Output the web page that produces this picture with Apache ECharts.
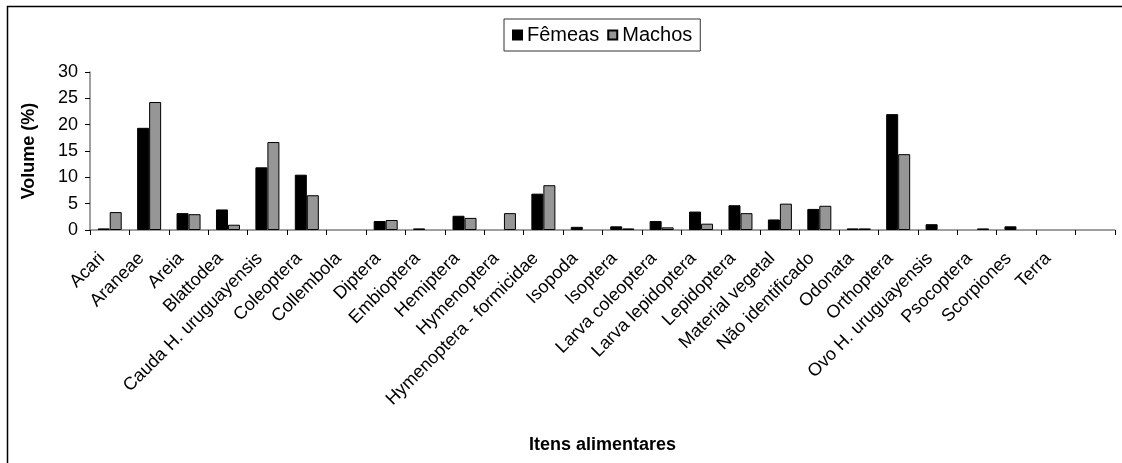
<!DOCTYPE html>
<html>
<head>
<meta charset="utf-8">
<script src="https://cdn.jsdelivr.net/npm/echarts@6/dist/echarts.min.js"></script>
<style>
  html, body { margin: 0; padding: 0; background: #fff; }
  #chart { width: 1122px; height: 463px; }
</style>
</head>
<body>
<div id="chart"></div>
<script>
// itens alimentares (ultima categoria vazia, como no original)
const categories = [
  'Acari', 'Araneae', 'Areia', 'Blattodea', 'Cauda H. uruguayensis', 'Coleoptera',
  'Collembola', 'Diptera', 'Embioptera', 'Hemiptera', 'Hymenoptera',
  'Hymenoptera - formicidae', 'Isopoda', 'Isoptera', 'Larva coleoptera',
  'Larva lepidoptera', 'Lepidoptera', 'Material vegetal', 'Não identificado',
  'Odonata', 'Orthoptera', 'Ovo H. uruguayensis', 'Psocoptera', 'Scorpiones',
  'Terra', ''
];
const femeas = [0.3, 19.4, 3.2, 3.9, 11.9, 10.5, 0, 1.7, 0.3, 2.7, 0, 6.9, 0.6, 0.7, 1.7, 3.5, 4.7, 2.0, 4.0, 0.3, 22.0, 1.1, 0, 0.7, 0, 0];
const machos = [3.4, 24.3, 3.0, 1.0, 16.7, 6.6, 0, 1.9, 0, 2.3, 3.2, 8.5, 0, 0.3, 0.5, 1.2, 3.2, 5.0, 4.6, 0.3, 14.4, 0, 0.3, 0, 0, 0];
const yTicks = { min: 0, max: 30, interval: 5 };

// barras de valor zero nao aparecem no original
function semZero(arr) {
  return arr.map(v => (v === 0 ? '-' : v));
}

const font = 'Liberation Sans, Arial, sans-serif';
let myChart = echarts.init(document.getElementById('chart'));

let option = {
  backgroundColor: '#fff',
  animation: false,
  textStyle: { fontFamily: font },
  graphic: [{
    type: 'rect',
    shape: { x: 7.5, y: 6.5, width: 1300, height: 600 },
    style: { fill: null, stroke: '#000', lineWidth: 1.5 },
    silent: true,
    z: -1
  }],
  legend: {
    top: 19,
    left: 504,
    icon: 'rect',
    itemWidth: 9,
    itemHeight: 9,
    itemGap: 8,
    padding: [6, 8, 6, 8],
    borderColor: '#333',
    borderWidth: 1,
    textStyle: { fontSize: 20, color: '#000', fontFamily: font },
    data: ['Fêmeas', 'Machos']
  },
  grid: {
    left: 90,
    right: 7,
    top: 72,
    bottom: 233,
    containLabel: false
  },
  xAxis: {
    type: 'category',
    data: categories,
    name: 'Itens alimentares',
    nameLocation: 'middle',
    nameGap: 206,
    nameTextStyle: { fontSize: 18, fontWeight: 'bold', color: '#000', fontFamily: font },
    axisLine: { lineStyle: { color: '#808080', width: 1.5 } },
    axisTick: { show: true, length: 5, lineStyle: { color: '#000' } },
    axisLabel: {
      interval: 0,
      rotate: 45,
      margin: 18,
      padding: [0, 11, 0, 0],
      fontSize: 18,
      color: '#000',
      fontFamily: font
    }
  },
  yAxis: {
    type: 'value',
    min: yTicks.min,
    max: yTicks.max,
    interval: yTicks.interval,
    name: 'Volume (%)',
    nameLocation: 'middle',
    nameGap: 52,
    nameTextStyle: { fontSize: 18, fontWeight: 'bold', color: '#000', fontFamily: font },
    axisLine: { show: true, lineStyle: { color: '#808080', width: 1.5 } },
    axisTick: { show: true, length: 5, lineStyle: { color: '#000' } },
    axisLabel: { fontSize: 18, color: '#000', margin: 12, fontFamily: font },
    splitLine: { show: false }
  },
  series: [{
    name: 'Fêmeas',
    type: 'bar',
    barWidth: 12,
    barGap: '0%',
    itemStyle: { color: '#000', borderColor: '#000', borderWidth: 1 },
    data: semZero(femeas)
  }, {
    name: 'Machos',
    type: 'bar',
    barWidth: 12,
    itemStyle: { color: '#969696', borderColor: '#000', borderWidth: 1 },
    data: semZero(machos)
  }]
};
myChart.setOption(option);

window.addEventListener('resize', function () {
  myChart.resize();
});
</script>
</body>
</html>
